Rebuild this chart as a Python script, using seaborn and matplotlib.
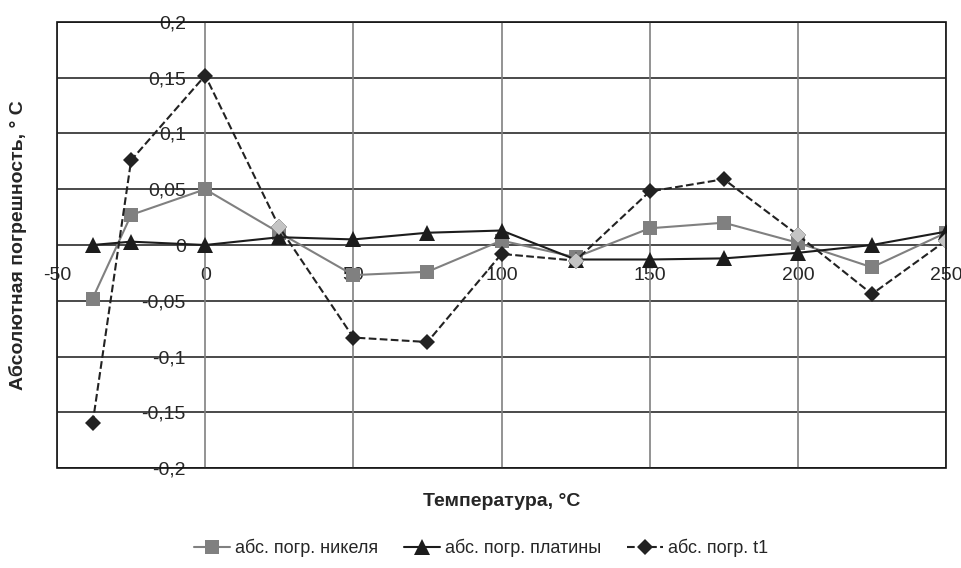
import matplotlib.pyplot as plt
import seaborn as sns
from matplotlib.patches import Rectangle

# Data
temps = [-38, -25, 0, 25, 50, 75, 100, 125, 150, 175, 200, 225, 250]
err_nickel = [-0.048, 0.027, 0.050, 0.011, -0.027, -0.024, 0.004, -0.011, 0.015, 0.020, 0.002, -0.020, 0.011]
err_platinum = [0.0, 0.003, 0.0, 0.007, 0.005, 0.011, 0.013, -0.013, -0.013, -0.012, -0.007, 0.0, 0.012]
err_t1 = [-0.160, 0.076, 0.152, 0.016, -0.083, -0.087, -0.008, -0.014, 0.048, 0.059, 0.009, -0.044, 0.004]
# t1 points drawn with a light marker in the original
t1_light_temps = [25, 125, 200, 250]

x_ticks = [-50, 0, 50, 100, 150, 200, 250]
y_ticks = [-0.2, -0.15, -0.1, -0.05, 0, 0.05, 0.1, 0.15, 0.2]
y_tick_labels = ['-0,2', '-0,15', '-0,1', '-0,05', '0', '0,05', '0,1', '0,15', '0,2']

sns.set_style('white')
plt.rcParams['font.family'] = ['Liberation Sans', 'DejaVu Sans']

fig = plt.figure(figsize=(9.62, 5.68), dpi=100)
ax = fig.add_axes([0.0593, 0.176, 0.9241, 0.7853])

sns.lineplot(x=temps, y=err_nickel, ax=ax, color='#808080', marker='s',
             markersize=10, markeredgewidth=0, linewidth=1.5, sort=False,
             label='абс. погр. никеля', zorder=3)
sns.lineplot(x=temps, y=err_platinum, ax=ax, color='#1c1c1c', marker='^',
             markersize=11, markeredgewidth=0, linewidth=1.5, sort=False,
             label='абс. погр. платины', zorder=4)
sns.lineplot(x=temps, y=err_t1, ax=ax, color='#222222', marker='D',
             markersize=8.5, markeredgewidth=0, linewidth=1.5, linestyle='--',
             sort=False, label='абс. погр. t1', zorder=5)
light_idx = [temps.index(t) for t in t1_light_temps]
ax.plot([temps[i] for i in light_idx], [err_t1[i] for i in light_idx],
        linestyle='none', marker='D', markersize=8.5, color='#c4c4c4',
        markeredgewidth=0, zorder=5.5)

ax.set_xlim(-50, 250)
ax.set_ylim(-0.2, 0.2)
ax.set_xticks(x_ticks)
ax.set_xticklabels([str(v) for v in x_ticks])
ax.set_yticks(y_ticks)
ax.set_yticklabels(y_tick_labels)

# grid: dark horizontal, gray vertical
ax.grid(False)
for yv in y_ticks:
    ax.axhline(yv, color='#2a2a2a', linewidth=1.2, zorder=1)
for xv in x_ticks:
    ax.axvline(xv, color='#808080', linewidth=1.2, zorder=1)

# tick labels sit on the zero lines
ax.spines['left'].set_position(('data', 0))
ax.spines['bottom'].set_position(('data', 0))
for s in ax.spines.values():
    s.set_visible(False)
ax.add_patch(Rectangle((0, 0), 1, 1, transform=ax.transAxes, fill=False,
                       edgecolor='#111111', linewidth=1.2, zorder=6, clip_on=False))
ax.tick_params(axis='y', length=0, pad=14, labelsize=14)
ax.tick_params(axis='x', length=0, pad=16, labelsize=14)
for t in ax.get_xticklabels() + ax.get_yticklabels():
    t.set_zorder(7)

ax.set_xlabel('Температура, °С', fontsize=14, fontweight='bold')
ax.xaxis.set_label_coords(0.5, -0.056)
ax.set_ylabel('Абсолютная погрешность, ° С', fontsize=14, fontweight='bold')
ax.yaxis.set_label_coords(-0.034, 0.5)

handles, labels = ax.get_legend_handles_labels()
ax.legend_.remove()
fig.legend(handles, labels, loc='center', bbox_to_anchor=(0.5, 0.035),
           ncol=3, frameon=False, fontsize=13, handlelength=2.0,
           columnspacing=1.4, handletextpad=0.3)

fig.savefig('out.png', dpi=100)
